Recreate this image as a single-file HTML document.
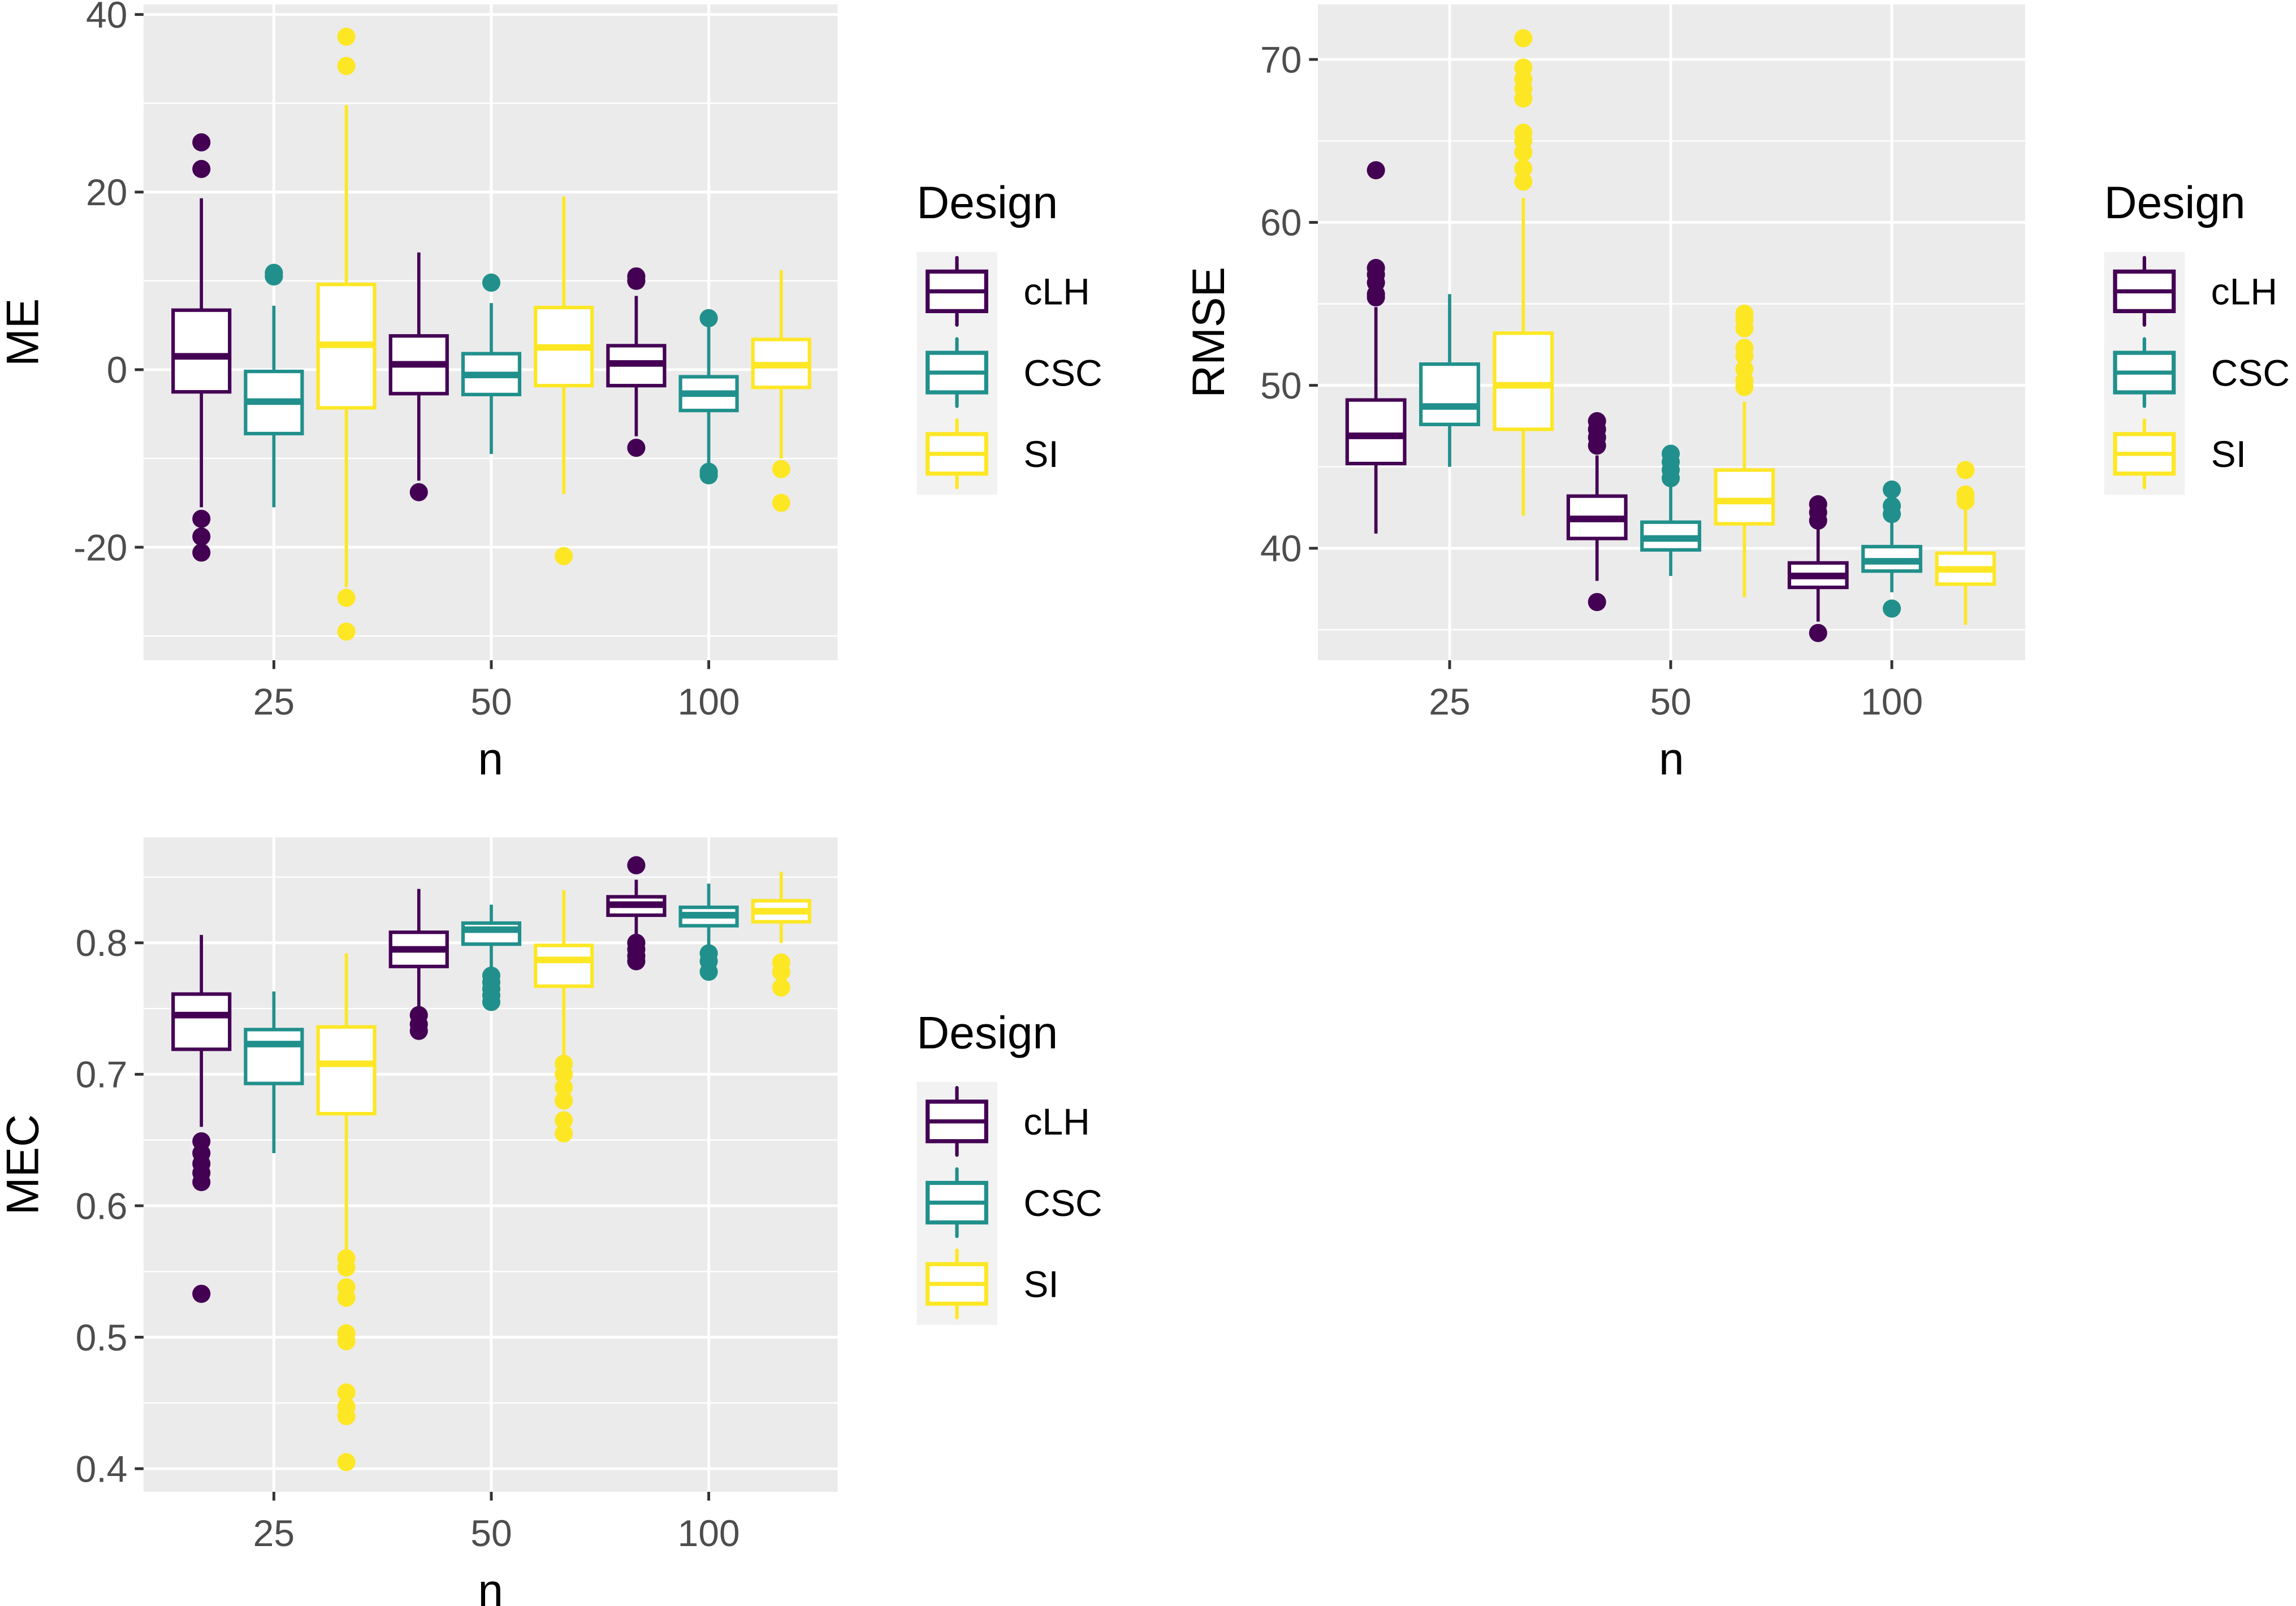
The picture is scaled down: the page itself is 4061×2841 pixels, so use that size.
<!DOCTYPE html>
<html><head><meta charset="utf-8"><style>
html,body{margin:0;padding:0;background:#fff}
svg{display:block}
text{font-family:"Liberation Sans",Arial,sans-serif}
</style></head><body>
<svg id="c" width="4061" height="2841" viewBox="0 0 1568 1097" xmlns="http://www.w3.org/2000/svg"></svg>
<script>
const designs = ["cLH","CSC","SI"];
const colors = ["#440154","#21908C","#FDE725"];
const nLevels = ["25","50","100"];
// [lowWhisker, q1, median, q3, highWhisker]
const meStats = [
 [[-15.5,-2.5,1.5,6.7,19.3],[-15.5,-7.2,-3.6,-0.2,7.2],[-24.5,-4.3,2.8,9.6,29.8]],
 [[-12.5,-2.7,0.6,3.8,13.2],[-9.5,-2.8,-0.6,1.8,7.5],[-14,-1.8,2.5,7,19.5]],
 [[-7.5,-1.8,0.7,2.7,8.3],[-10.5,-4.6,-2.7,-0.8,5],[-10,-2,0.5,3.4,11.2]]
];
const meOut = [
 [[25.6,22.6,-16.8,-18.8,-20.6],[10.5,10.9],[37.5,34.2,-25.7,-29.5]],
 [[-13.8],[9.8],[-21]],
 [[10.5,10,-8.8],[5.8,-11.5,-11.9],[-11.2,-15]]
];
const rmseStats = [
 [[40.9,45.2,46.9,49.1,54.8],[45,47.6,48.7,51.3,55.6],[42,47.3,50,53.2,61.5]],
 [[38,40.6,41.8,43.2,45.7],[38.3,39.9,40.6,41.6,44],[37,41.5,42.9,44.8,49]],
 [[35.5,37.6,38.3,39.1,41.3],[37.3,38.6,39.2,40.1,41.8],[35.3,37.8,38.7,39.7,42.6]]
];
const rmseOut = [
 [[63.2,57.2,56.8,56.3,55.6,55.4],[],[71.3,69.5,68.8,68.2,67.6,65.5,65,64.3,63.3,62.5]],
 [[46.3,46.8,47.3,47.8,36.7],[44.3,44.8,45.3,45.8],[49.9,50.3,51,51.8,52.3,53.5,54,54.4]],
 [[41.7,42.2,42.7,34.8],[42.1,42.6,43.6,36.3],[42.9,43.3,44.8]]
];
const mecStats = [
 [[0.66,0.719,0.745,0.761,0.806],[0.64,0.693,0.723,0.734,0.763],[0.567,0.67,0.708,0.736,0.792]],
 [[0.75,0.782,0.795,0.808,0.841],[0.78,0.799,0.81,0.815,0.829],[0.712,0.767,0.787,0.798,0.84]],
 [[0.805,0.821,0.829,0.835,0.848],[0.796,0.813,0.821,0.827,0.845],[0.8,0.816,0.824,0.832,0.854]]
];
const mecOut = [
 [[0.649,0.64,0.632,0.625,0.618,0.533],[],[0.56,0.553,0.538,0.53,0.503,0.497,0.458,0.447,0.44,0.405]],
 [[0.745,0.738,0.733],[0.775,0.77,0.765,0.76,0.755],[0.708,0.7,0.69,0.68,0.665,0.655]],
 [[0.859,0.8,0.795,0.79,0.786],[0.792,0.786,0.778],[0.785,0.778,0.766]]
];
const meTicks = [-20,0,20,40];
const rmseTicks = [40,50,60,70];
const mecTicks = [0.4,0.5,0.6,0.7,0.8];

const svg = document.getElementById('c');
const NS = "http://www.w3.org/2000/svg";
function mk(tag, attrs, parent){
  const e = document.createElementNS(NS, tag);
  for (const k in attrs) e.setAttribute(k, attrs[k]);
  (parent||svg).appendChild(e);
  return e;
}
function txt(s, attrs, parent){ const t = mk('text', attrs, parent); t.textContent = s; return t; }

function panel(cfg){
  const g = mk('g', {});
  
  
  const {x0,x1,y0,y1} = cfg;
  const yScale = v => cfg.yPix0 + (v - cfg.yV0) * (cfg.yPix1 - cfg.yPix0) / (cfg.yV1 - cfg.yV0);
  const xScale = i => cfg.xPix0 + i * cfg.xStep;
  const bg = mk('rect', {x:x0, y:y0, width:x1-x0, height:y1-y0, fill:'#EBEBEB'}, g);
  
  
  const tk = cfg.ticks;
  const step = tk[1]-tk[0];
  for (let i=-1;i<tk.length;i++){
    const v = tk[0] + (i+0.5)*step;
    const y = yScale(v);
    if (y>y0 && y<y1) mk('line',{x1:x0,x2:x1,y1:y,y2:y,stroke:'#fff','stroke-width':0.9},g);
  }
  tk.forEach(v=>{
    const y = yScale(v);
    mk('line',{x1:x0,x2:x1,y1:y,y2:y,stroke:'#fff','stroke-width':1.9},g);
    mk('line',{x1:x0-6,x2:x0,y1:y,y2:y,stroke:'#333','stroke-width':1.9},g);
    const t = txt(cfg.fmt(v), {x:x0-11, y:y+9, 'text-anchor':'end', 'font-size':25.5, fill:'#4D4D4D'}, g);
    
    
  });
  nLevels.forEach((lab,i)=>{
    const x = xScale(i);
    mk('line',{x1:x,x2:x,y1:y0,y2:y1,stroke:'#fff','stroke-width':1.9},g);
    mk('line',{x1:x,x2:x,y1:y1,y2:y1+6,stroke:'#333','stroke-width':1.9},g);
    const t = txt(lab, {x:x, y:y1+37, 'text-anchor':'middle', 'font-size':25.5, fill:'#4D4D4D'}, g);
    
    
  });
  const dodge = cfg.xStep/3, bw = dodge*0.78;
  cfg.stats.forEach((grp,i)=>{
    grp.forEach((s,j)=>{
      const cx = xScale(i) + (j-1)*dodge;
      const col = colors[j];
      const bx = mk('g',{},g);
      
      
      mk('line',{x1:cx,x2:cx,y1:yScale(s[0]),y2:yScale(s[1]),stroke:col,'stroke-width':2.2},bx);
      mk('line',{x1:cx,x2:cx,y1:yScale(s[3]),y2:yScale(s[4]),stroke:col,'stroke-width':2.2},bx);
      mk('rect',{x:cx-bw/2,y:yScale(s[3]),width:bw,height:yScale(s[1])-yScale(s[3]),fill:'#fff',stroke:col,'stroke-width':2.4},bx);
      mk('line',{x1:cx-bw/2,x2:cx+bw/2,y1:yScale(s[2]),y2:yScale(s[2]),stroke:col,'stroke-width':4.5},bx);
      cfg.out[i][j].forEach(v=>{
        const c = mk('circle',{cx:cx,cy:yScale(v),r:6.2,fill:col},bx);
        
        
      });
    });
  });
  const xt = txt('n', {x:(x0+x1)/2, y:y1+78, 'text-anchor':'middle', 'font-size':31, fill:'#000'}, g);
  
  
  const ytx = cfg.ytX, yty = (y0+y1)/2;
  const yt = txt(cfg.ylab, {x:ytx, y:yty, 'text-anchor':'middle', 'font-size':31, fill:'#000', transform:`rotate(-90 ${ytx} ${yty})`}, g);
  
  
  const lg = mk('g',{},g);
  
  
  const lx = cfg.legX, ly = cfg.legY;
  const lt = txt('Design', {x:lx, y:ly, 'font-size':31, fill:'#000'}, lg);
  
  
  mk('rect',{x:lx,y:ly+23,width:55,height:166,fill:'#F2F2F2'},lg);
  designs.forEach((d,j)=>{
    const cy = ly + 50 + j*55.5;
    const e = mk('g',{},lg);
    
    
    const col = colors[j], kx = lx+27.5;
    mk('line',{x1:kx,x2:kx,y1:cy-23,y2:cy+23,stroke:col,'stroke-width':2.4,'stroke-linecap':'round'},e);
    mk('rect',{x:lx+7.5,y:cy-13.5,width:40,height:27,fill:'#fff',stroke:col,'stroke-width':2.8},e);
    mk('line',{x1:lx+7.5,x2:lx+47.5,y1:cy,y2:cy,stroke:col,'stroke-width':2.8},e);
    txt(d, {x:lx+73, y:cy+9, 'font-size':25.5, fill:'#000'}, e);
  });
}

panel({name:'me', x0:98,x1:572,y0:3,y1:451, yV0:0,yV1:20,yPix0:252.5,yPix1:131.2,
  xPix0:187,xStep:148.5, ticks:meTicks, fmt:v=>String(v), stats:meStats, out:meOut,
  ylab:'ME', ytX:26, legX:626, legY:149});
panel({name:'rmse', x0:900,x1:1383,y0:3,y1:451, yV0:40,yV1:50,yPix0:374.5,yPix1:263.2,
  xPix0:990,xStep:151, ticks:rmseTicks, fmt:v=>String(v), stats:rmseStats, out:rmseOut,
  ylab:'RMSE', ytX:836, legX:1437, legY:149});
panel({name:'mec', x0:98,x1:572,y0:572,y1:1019, yV0:0.8,yV1:0.7,yPix0:644,yPix1:733.8,
  xPix0:187,xStep:148.5, ticks:mecTicks, fmt:v=>v.toFixed(1), stats:mecStats, out:mecOut,
  ylab:'MEC', ytX:26, legX:626, legY:716});
</script>
</body></html>
